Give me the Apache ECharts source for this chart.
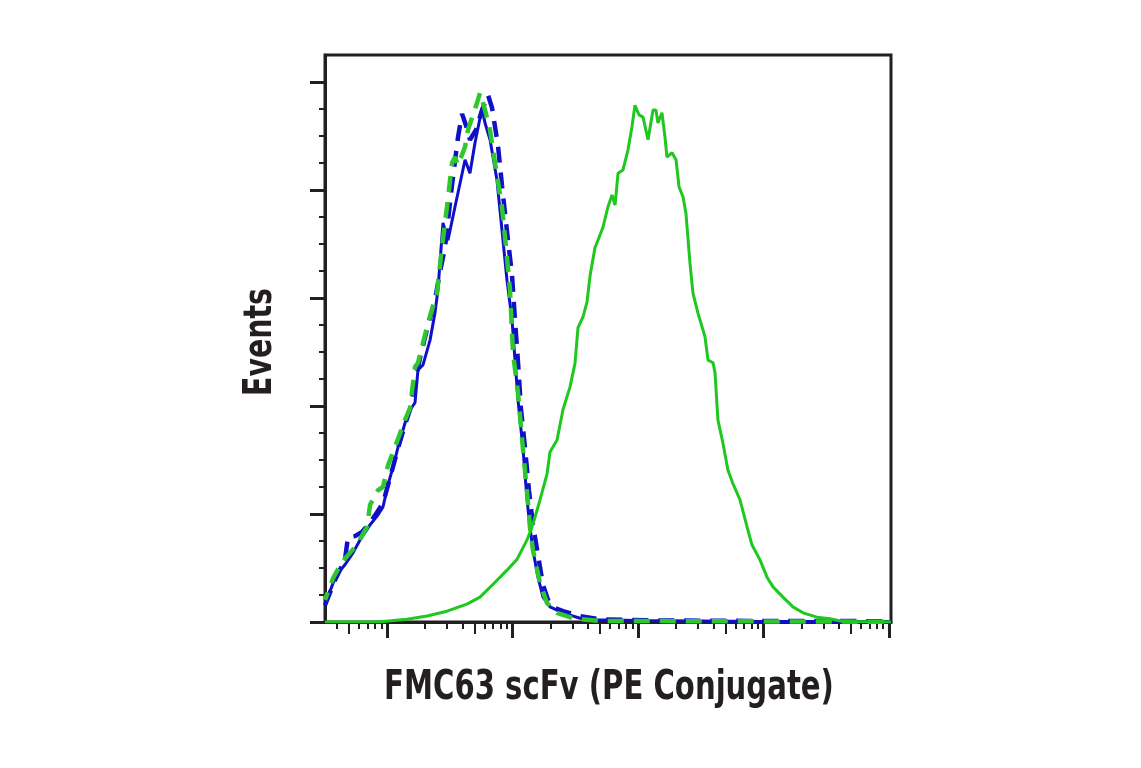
<!DOCTYPE html>
<html>
<head>
<meta charset="utf-8">
<script src="https://cdn.jsdelivr.net/npm/echarts@6/dist/echarts.min.js"></script>
<style>
html,body{margin:0;padding:0;background:#fff;}
#chart{width:1141px;height:768px;}
</style>
</head>
<body>
<div id="chart"></div>
<script>
// x values are log10 fluorescence (decades), y values are event counts (relative)
const xTitle = 'FMC63 scFv (PE Conjugate)';
const yTitle = 'Events';
const xMin = 0.506, xMax = 5.016;
const yMin = 0, yMax = 105;
const xMajorTicks = [1, 2, 3, 4, 5];
const yMajorTicks = [0, 20, 40, 60, 80, 100];
const yMinorTicks = [5, 10, 15, 25, 30, 35, 45, 50, 55, 65, 70, 75, 85, 90, 95];

const blueSolid = [
  [0.506,3.1],[0.570,7.2],[0.610,9.1],[0.665,10.6],[0.729,12.8],[0.785,15.2],[0.865,18.0],
  [0.928,19.8],[0.968,21.3],[1.008,25.4],[1.048,28.7],[1.088,32.4],[1.167,38.7],[1.223,40.6],
  [1.247,46.7],[1.287,47.6],[1.343,52.2],[1.382,57.2],[1.406,61.5],[1.446,73.9],[1.486,70.7],
  [1.542,76.9],[1.622,85.6],[1.661,83.1],[1.701,88.7],[1.757,95.2],[1.781,92.4],[1.821,89.3],
  [1.876,81.9],[1.916,72.6],[1.956,63.3],[1.996,56.0],[2.044,41.1],[2.084,31.9],[2.116,22.6],
  [2.139,17.6],[2.163,13.3],[2.203,8.3],[2.243,4.6],[2.299,2.8],[2.402,1.7],[2.538,0.7],
  [2.673,0.4],[3.0,0.3],[3.5,0.2],[4.0,0.1],[5.016,0.1]
];
const blueDashed = [
  [0.506,3.1],[0.586,7.8],[0.665,11.5],[0.689,15.7],[0.745,15.9],[0.801,16.7],[0.880,18.9],
  [0.968,22.0],[1.024,26.7],[1.088,32.2],[1.143,36.5],[1.183,39.3],[1.223,44.3],[1.263,48.9],
  [1.327,55.0],[1.382,59.6],[1.422,64.8],[1.462,69.3],[1.518,80.9],[1.566,89.8],[1.598,94.1],
  [1.629,92.0],[1.661,89.3],[1.709,91.1],[1.757,94.8],[1.805,97.6],[1.837,95.2],[1.884,88.3],
  [1.916,80.9],[1.964,70.7],[1.996,64.3],[2.020,55.9],[2.044,48.1],[2.068,39.3],[2.100,32.2],
  [2.131,24.4],[2.163,18.0],[2.203,12.4],[2.243,6.9],[2.283,4.1],[2.339,2.6],[2.418,1.9],
  [2.538,1.1],[2.697,0.5],[3.095,0.3],[3.892,0.2],[5.016,0.15]
];
const greenDashed = [
  [0.506,4.1],[0.570,8.1],[0.641,11.1],[0.761,14.3],[0.841,17.6],[0.865,21.7],[0.928,24.4],
  [0.968,25.0],[1.008,29.0],[1.064,32.4],[1.143,37.4],[1.183,39.6],[1.223,47.2],[1.247,48.0],
  [1.327,55.4],[1.398,60.9],[1.438,69.4],[1.478,76.9],[1.518,85.0],[1.542,86.1],[1.566,84.6],
  [1.622,88.0],[1.645,91.1],[1.717,96.1],[1.741,98.0],[1.781,94.8],[1.821,91.1],[1.861,85.0],
  [1.916,76.9],[1.956,67.6],[1.980,61.5],[2.004,49.8],[2.044,42.4],[2.084,31.9],[2.124,22.0],
  [2.139,17.6],[2.163,13.3],[2.219,7.2],[2.275,3.5],[2.355,1.7],[2.498,0.6],[2.697,0.2],[5.016,0.05]
];
const greenSolid = [
  [0.506,0],[0.928,0],[1.159,0.5],[1.319,1.1],[1.478,2.0],[1.637,3.3],[1.741,4.6],[1.845,7.0],
  [1.956,9.6],[2.036,11.6],[2.116,15.2],[2.163,18.1],[2.219,22.6],[2.275,27.4],[2.299,31.5],
  [2.355,33.7],[2.402,39.3],[2.458,43.5],[2.498,47.9],[2.522,54.5],[2.562,56.5],[2.594,59.3],
  [2.618,64.1],[2.657,69.3],[2.681,70.7],[2.721,73.1],[2.761,76.9],[2.793,79.1],[2.817,77.2],
  [2.841,83.1],[2.880,83.7],[2.920,87.4],[2.952,91.7],[2.976,95.7],[3.008,93.9],[3.040,93.5],
  [3.080,89.3],[3.120,94.8],[3.143,94.8],[3.159,92.4],[3.191,94.3],[3.215,89.8],[3.231,86.1],
  [3.271,86.9],[3.303,85.6],[3.327,80.6],[3.359,78.7],[3.382,75.7],[3.414,66.5],[3.438,60.9],
  [3.478,57.2],[3.534,52.8],[3.558,48.5],[3.598,48.0],[3.614,46.1],[3.637,37.4],[3.677,33.1],
  [3.717,28.1],[3.757,25.6],[3.813,22.6],[3.869,17.6],[3.908,14.3],[3.972,11.5],[4.028,8.3],
  [4.076,6.5],[4.155,4.6],[4.235,2.8],[4.315,1.7],[4.426,0.9],[4.530,0.6],[4.633,0.1],[5.016,0]
];

// log-decade minor tick positions (2..9 x 10^d), split into the "5" ticks and the rest
const xMidTicks = [], xMinorTicks = [];
for (let d = 0; d <= 4; d++) {
  for (let k = 2; k <= 9; k++) {
    const v = d + Math.log10(k);
    if (v < xMin || v > xMax) continue;
    (k === 5 ? xMidTicks : xMinorTicks).push(v);
  }
}

const FONT = "'DejaVu Sans Condensed', 'DejaVu Sans', sans-serif";
const INK = '#231f20';

function xAxisTicks(values, len, width, extra) {
  return Object.assign({
    type: 'value', position: 'bottom', min: xMin, max: xMax, gridIndex: 0,
    axisLine: { show: false }, axisLabel: { show: false }, splitLine: { show: false },
    axisTick: { show: true, customValues: values, length: len, lineStyle: { color: INK, width: width } }
  }, extra || {});
}
function yAxisTicks(values, len, width, extra) {
  return Object.assign({
    type: 'value', position: 'left', min: yMin, max: yMax, gridIndex: 0,
    axisLine: { show: false }, axisLabel: { show: false }, splitLine: { show: false },
    axisTick: { show: true, customValues: values, length: len, lineStyle: { color: INK, width: width } }
  }, extra || {});
}

const titleStyle = { fontFamily: FONT, fontWeight: 'bold', fontSize: 41, fill: INK,
                     textAlign: 'center', textVerticalAlign: 'middle' };

const chart = echarts.init(document.getElementById('chart'), null, { renderer: 'canvas' });
chart.setOption({
  backgroundColor: '#ffffff',
  animation: false,
  grid: {
    left: 325, right: 250, top: 55, bottom: 146,
    show: true, borderColor: INK, borderWidth: 3, backgroundColor: 'transparent'
  },
  xAxis: [
    xAxisTicks(xMajorTicks, 16, 3, { axisLine: { show: true, lineStyle: { color: INK, width: 3 } } }),
    xAxisTicks(xMidTicks, 12, 2),
    xAxisTicks(xMinorTicks, 7, 2)
  ],
  yAxis: [
    yAxisTicks(yMajorTicks, 15, 3, { axisLine: { show: true, lineStyle: { color: INK, width: 3 } } }),
    yAxisTicks(yMinorTicks, 6, 2)
  ],
  graphic: [
    { type: 'text', x: 609, y: 688, scaleX: 0.79, silent: true,
      style: Object.assign({ text: xTitle }, titleStyle) },
    { type: 'text', x: 261, y: 342, rotation: Math.PI / 2, scaleX: 0.77, scaleY: 0.95, silent: true,
      style: Object.assign({ text: yTitle }, titleStyle) }
  ],
  series: [
    { type: 'line', name: 'blue solid', data: blueSolid, xAxisIndex: 0, yAxisIndex: 0,
      showSymbol: false, clip: true, lineStyle: { color: '#1010c8', width: 3 } },
    { type: 'line', name: 'blue dashed', data: blueDashed, xAxisIndex: 0, yAxisIndex: 0,
      showSymbol: false, clip: true, lineStyle: { color: '#1010c8', width: 4.5, type: [16, 10] } },
    { type: 'line', name: 'green dashed', data: greenDashed, xAxisIndex: 0, yAxisIndex: 0,
      showSymbol: false, clip: true, lineStyle: { color: '#2ec82e', width: 4.5, type: [16, 10], dashOffset: 8 } },
    { type: 'line', name: 'green solid', data: greenSolid, xAxisIndex: 0, yAxisIndex: 0,
      showSymbol: false, clip: true, lineStyle: { color: '#1ec81e', width: 3 } }
  ]
});
</script>
</body>
</html>
